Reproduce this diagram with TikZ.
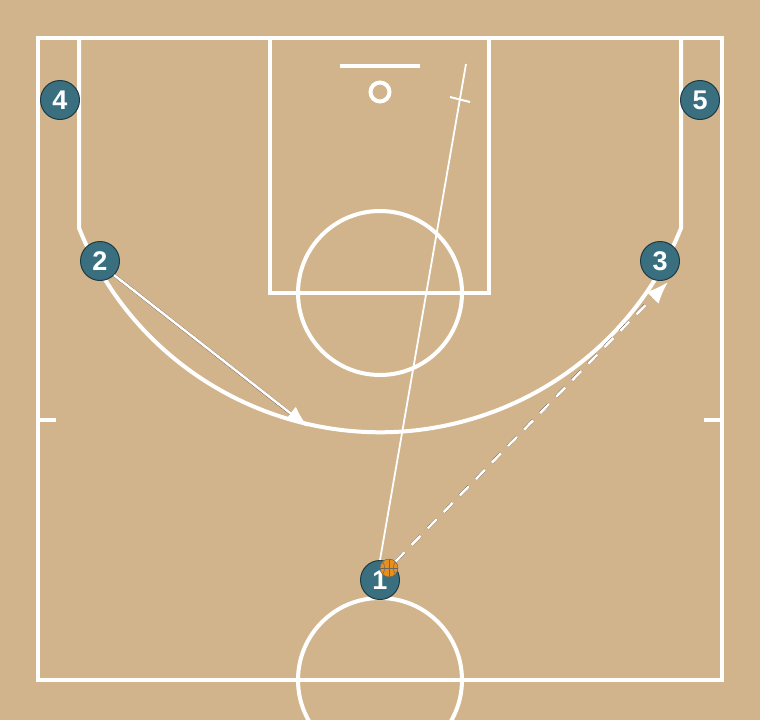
\documentclass[tikz,border=0pt]{standalone}
\usepackage{fontspec}
\setmainfont{Liberation Sans}
\usetikzlibrary{arrows.meta}
\definecolor{court}{HTML}{D2B48C}
\definecolor{teal}{HTML}{3A6F80}
\definecolor{tealdark}{HTML}{1E3A44}
\definecolor{ballorange}{HTML}{E8901A}
\tikzset{
  courtline/.style={white, line width=4pt},
  player/.style={circle, fill=teal, draw=tealdark, line width=1pt,
    minimum size=39pt, inner sep=0pt, text=white, font=\bfseries\fontsize{27}{27}\selectfont},
  shadow/.style={black!60!court, line width=3pt, shift={(3,0.5)}},
  move/.style={white, line width=2.6pt},
  arrowtip/.style={-{Latex[length=22pt,width=17pt]}},
  passline/.style={dash pattern=on 13pt off 10pt}
}
\begin{document}
\begin{tikzpicture}[x=1pt,y=-1pt]
\useasboundingbox[fill=court] (0,0) rectangle (760,720);
% court
\draw[courtline] (38,38) rectangle (722,680);
\draw[courtline] (270,38) rectangle (489,293);
\draw[courtline] (380,293) circle (82);
\draw[courtline] (340,66) -- (420,66);
\draw[courtline] (380,92) circle (9.5);
\draw[courtline] (79,38) -- (79,228) arc[start angle=158.3, end angle=21.7, radius=324] -- (681,38);
\draw[courtline] (38,420) -- (56,420);
\draw[courtline] (704,420) -- (722,420);
\begin{scope}
\clip (38,38) rectangle (722,720);
\draw[courtline] (380,680) circle (82);
\end{scope}
% coordinates
\coordinate (cutend) at (308,427);
\coordinate (passend) at (668,282);
\coordinate (screenend) at (466,64);
\coordinate (screenA) at (450,97);
\coordinate (screenB) at (470,102);
% players
\node[player] (p4) at (60,100) {4};
\node[player] (p5) at (700,100) {5};
\node[player] (p2) at (100,261) {2};
\node[player] (p3) at (660,261) {3};
\node[player] (p1) at (380,580) {1};
% ball
\node[circle, fill=ballorange, draw=black!60, line width=0.5pt, minimum size=18pt, inner sep=0pt] (ball) at (389,568) {};
\draw[black!60, line width=0.5pt] (ball.north) -- (ball.south) (ball.west) -- (ball.east);
\draw[black!60, line width=0.5pt] (ball.north west) to[bend left=35] (ball.south west);
\draw[black!60, line width=0.5pt] (ball.north east) to[bend right=35] (ball.south east);
% cut 2
\draw[shadow] (p2.south east) -- ([shift={(-13,-10)}]cutend);
\draw[move, arrowtip] (p2.south east) -- (cutend);
% pass 1 to 3
\draw[shadow, passline] (ball.north east) -- ([shift={(-12,12)}]passend);
\draw[move, passline, arrowtip] (ball.north east) -- (passend);
% screen 1
\draw[white, line width=1.8pt] (p1.north) -- (screenend);
\draw[white, line width=2pt] (screenA) -- (screenB);
\end{tikzpicture}
\end{document}
